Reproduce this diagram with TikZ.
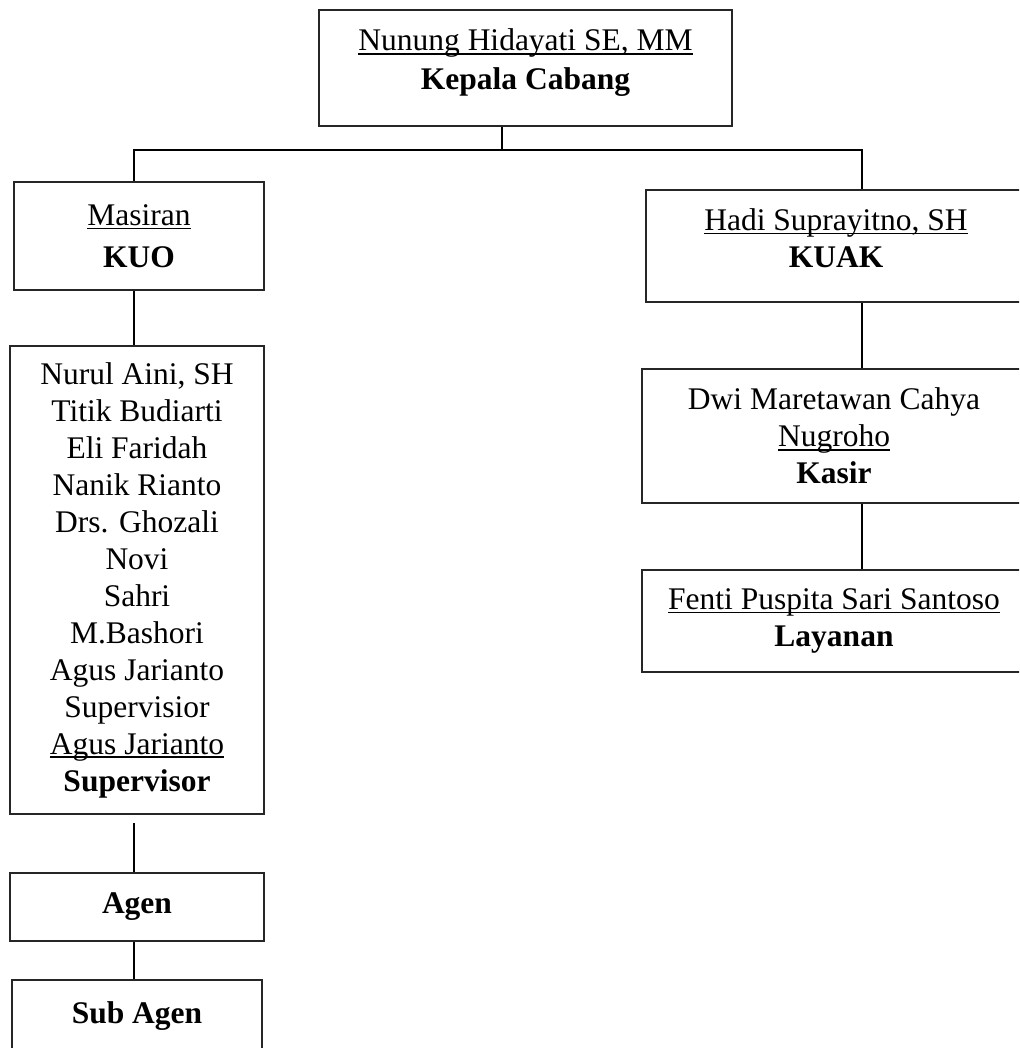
\documentclass[tikz,border=0pt]{standalone}
\usepackage{fontspec}
\setmainfont{Liberation Serif}
\usepackage{tikz}
\usetikzlibrary{positioning}

% underline close below the baseline, as in the chart
\newcommand{\undl}[1]{\setbox0=\hbox{#1}\rlap{\rule[-1.9pt]{\wd0}{0.7pt}}\box0}

\begin{document}
\begin{tikzpicture}[
  x=0.5pt, y=-0.5pt,
  unit/.style={rectangle, draw=black!85, line width=1pt, align=center, inner sep=2pt, font=\fontsize{15.75}{18.5}\selectfont},
  link/.style={draw=black, line width=0.6pt},
]
  \useasboundingbox (0,0) rectangle (1019,1048);
  \clip (0,0) rectangle (1019,1048);

  % top
  \node[unit, minimum width=206.5pt, minimum height=58pt, font=\fontsize{15.75}{19.5}\selectfont] (head) at (525.5,68) {\undl{Nunung Hidayati SE, MM}\\ \textbf{Kepala Cabang}\rule[-8.5pt]{0pt}{1pt}};

  % left branch
  \node[unit, minimum width=125pt, minimum height=54pt, font=\fontsize{15.75}{21}\selectfont] (kuo) at (139,236) {\undl{Masiran}\\ \textbf{KUO}};
  \node[unit, minimum width=127pt, minimum height=234pt] (staff) at (137,580) {Nurul Aini, SH\\ Titik Budiarti\\ Eli Faridah\\ Nanik Rianto\\ Drs. Ghozali\\ Novi\\ Sahri\\ M.Bashori\\ Agus Jarianto\\ Supervisior\\ \undl{Agus Jarianto}\\ \textbf{Supervisor}};
  \node[unit, minimum width=127pt, minimum height=34pt] (agen) at (137,907) {\textbf{Agen}};
  \node[unit, minimum width=125pt, minimum height=36pt] (subagen) at (137,1016) {\textbf{Sub Agen}};

  % right branch
  \node[unit, minimum width=190pt, minimum height=56pt] (kuak) at (836,246) {\undl{Hadi Suprayitno, SH}\\ \textbf{KUAK}\rule[-8pt]{0pt}{1pt}};
  \node[unit, minimum width=192pt, minimum height=67pt] (kasir) at (834,436) {Dwi Maretawan Cahya\\ \undl{Nugroho}\\ \textbf{Kasir}};
  \node[unit, minimum width=192pt, minimum height=51pt] (layanan) at (834,621) {\undl{Fenti Puspita Sari Santoso}\\ \textbf{Layanan}};

  % connectors
  \coordinate (hub) at (502,150);
  \coordinate (lx) at (134,150);
  \coordinate (rx) at (862,150);

  \draw[link] (head.south -| hub) -- (hub);
  \draw[link] (kuo.north -| lx) -- (lx) -- (rx) -- (kuak.north -| rx);
  \draw[link] (kuo.south -| lx) -- (staff.north -| lx);
  \draw[link, shorten <=4pt] (staff.south -| lx) -- (agen.north -| lx);
  \draw[link] (agen.south -| lx) -- (subagen.north -| lx);
  \draw[link] (kuak.south -| rx) -- (kasir.north -| rx);
  \draw[link] (kasir.south -| rx) -- (layanan.north -| rx);
\end{tikzpicture}
\end{document}
